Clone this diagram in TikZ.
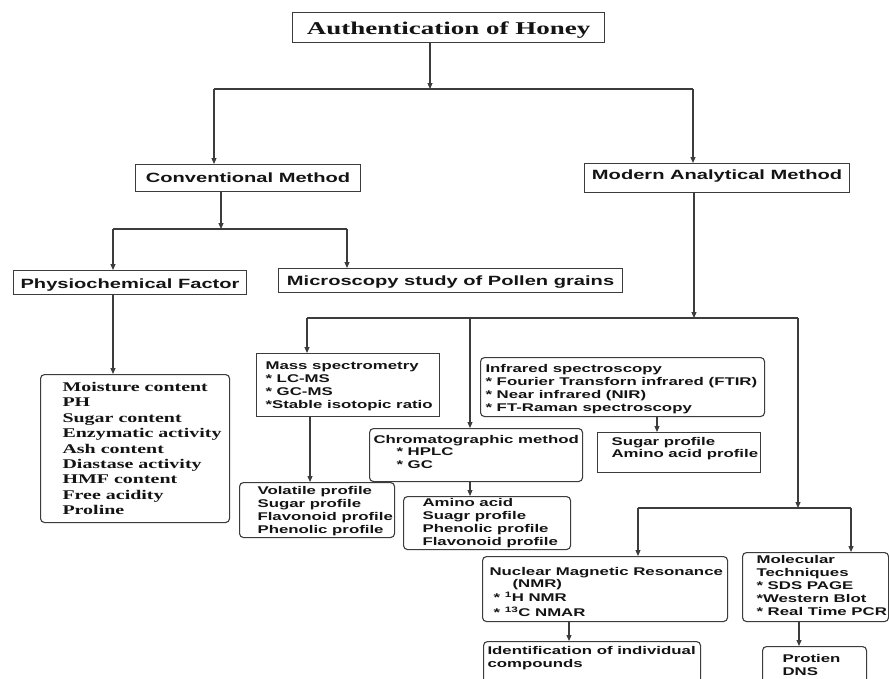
\documentclass[tikz,border=0pt]{standalone}
\usepackage{fontspec}
\setmainfont{Liberation Serif}[FakeStretch=1.5]
\newfontfamily\arl{Liberation Sans}[FakeStretch=1.5]
\usetikzlibrary{arrows.meta}
\definecolor{lc}{HTML}{3C3C3C}
\definecolor{tc}{HTML}{141414}
\newcommand\bnode[8]{\node[#1] (#2) at (#3,#4) {\hspace*{#7pt}\parbox[c][\dimexpr #6pt-#4pt\relax][t]{\dimexpr #5pt-#3pt-#7pt\relax}{#8}};}
\newcommand\st[1]{\rule{0pt}{#1pt}}
\newcommand\sm{\arl\bfseries\fontsize{11.2}{13}\selectfont}
\newcommand\md{\arl\bfseries\fontsize{13.4}{15}\selectfont}
\tikzset{
  sq/.style={draw=lc, line width=1.1pt, inner sep=0pt, anchor=north west, text=tc},
  rd/.style={sq, rounded corners=4pt},
  ar/.style={draw=lc, line width=1.1pt, -{Triangle[length=6pt,width=5pt]}},
  ln/.style={draw=lc, line width=1.1pt},
}
\begin{document}
\begin{tikzpicture}[x=1pt,y=-1pt]
\fill[white] (0,0) rectangle (889,678);
\useasboundingbox (0,0) rectangle (889,678);

% boxes
\bnode{sq}{auth}{292}{12}{604}{42}{0}{\centering\fontsize{18}{20}\selectfont\bfseries\st{21.5}Authentication of Honey}
\bnode{sq}{conv}{135}{164}{360}{191}{0}{\centering\md\st{17.5}Conventional Method}
\bnode{sq}{mod}{584}{163}{849}{192}{0}{\centering\md\st{15.5}Modern Analytical Method}
\bnode{sq}{phys}{13}{270}{246}{294}{0}{\centering\md\st{18}Physiochemical Factor}
\bnode{sq}{micro}{278}{268}{622}{292}{0}{\centering\md\st{16.5}Microscopy study of Pollen grains}

\bnode{rd}{moist}{40}{374}{229}{522}{22}{\raggedright\bfseries\fontsize{13.3}{15.4}\selectfont\st{17}\mbox{Moisture content}\\\mbox{PH}\\\mbox{Sugar content}\\\mbox{Enzymatic activity}\\\mbox{Ash content}\\\mbox{Diastase activity}\\\mbox{HMF content}\\\mbox{Free acidity}\\\mbox{Proline}}

\bnode{sq}{mass}{256}{353}{439}{416}{9}{\sm\raggedright\st{16}\mbox{Mass spectrometry}\\\mbox{* LC-MS}\\\mbox{* GC-MS}\\\mbox{*Stable isotopic ratio}}
\bnode{rd}{vol}{239}{482}{394}{537}{18}{\sm\raggedright\st{12}\mbox{Volatile profile}\\\mbox{Sugar profile}\\\mbox{Flavonoid profile}\\\mbox{Phenolic profile}}
\bnode{rd}{ir}{480}{357}{764}{416}{5}{\sm\raggedright\st{15}\mbox{Infrared spectroscopy}\\\mbox{* Fourier Transforn infrared (FTIR)}\\\mbox{* Near infrared (NIR)}\\\mbox{* FT-Raman spectroscopy}}
\bnode{sq}{sug}{597}{432}{760}{472}{14}{\sm\raggedright\st{13}\mbox{Sugar profile}\\[-1pt]\mbox{Amino acid profile}}
\bnode{rd}{chr}{369}{428}{582}{481}{4}{\sm\raggedright\st{15}\mbox{Chromatographic method}\\[-1pt]\hspace*{23pt}\mbox{* HPLC}\\\hspace*{23pt}\mbox{* GC}}
\bnode{rd}{amino}{403}{496}{570}{549}{19}{\sm\raggedright\st{10}\mbox{Amino acid}\\\mbox{Suagr profile}\\\mbox{Phenolic profile}\\\mbox{Flavonoid profile}}
\bnode{rd}{nmr}{482}{556}{727}{621}{7}{\sm\raggedright\st{18.5}\mbox{Nuclear Magnetic Resonance}\\[-0.5pt]\hspace*{23pt}\mbox{(NMR)}\\[1pt]\hspace*{4pt}\mbox{* \textsuperscript{1}H NMR}\\[2pt]\hspace*{4pt}\mbox{* \textsuperscript{13}C NMAR}}
\bnode{rd}{mol}{742}{552}{888}{621}{14}{\sm\raggedright\st{11}\mbox{Molecular}\\\mbox{Techniques}\\\mbox{* SDS PAGE}\\\mbox{*Western Blot}\\\mbox{* Real Time PCR}}
\bnode{rd}{ident}{483}{641}{700}{692}{4}{\sm\raggedright\st{13}\mbox{Identification of individual}\\\mbox{compounds}}
\bnode{rd}{prot}{762}{646}{866}{692}{20}{\sm\raggedright\st{16}\mbox{Protien}\\\mbox{DNS}}

% junction coordinates
\coordinate (j1) at (430,89);
\coordinate (j1L) at (214,89);
\coordinate (j1R) at (693,89);
\coordinate (j2) at (221,229);
\coordinate (j2L) at (113,229);
\coordinate (j2R) at (347,229);
\coordinate (j3) at (694,318);
\coordinate (j3L) at (307,318);
\coordinate (j3M) at (470,318);
\coordinate (j3R) at (798,318);
\coordinate (j4) at (798,508);
\coordinate (j4L) at (638,508);
\coordinate (j4R) at (851,508);
\coordinate (xa) at (310,0);
\coordinate (xb) at (657,0);
\coordinate (xc) at (569,0);
\coordinate (xd) at (799,0);

% connectors
\draw[ar] (auth.south -| j1) -- (j1);
\draw[ln] (j1L) -- (j1R);
\draw[ar] (j1L) -- (conv.north -| j1L);
\draw[ar] (j1R) -- (mod.north -| j1R);

\draw[ar] (conv.south -| j2) -- (j2);
\draw[ln] (j2L) -- (j2R);
\draw[ar] (j2L) -- (phys.north -| j2L);
\draw[ar] (j2R) -- (micro.north -| j2R);
\draw[ar] (phys.south -| j2L) -- (moist.north -| j2L);

\draw[ar] (mod.south -| j3) -- (j3);
\draw[ln] (j3L) -- (j3R);
\draw[ar] (j3L) -- (mass.north -| j3L);
\draw[ar] (j3M) -- (chr.north -| j3M);
\draw[ar] (j3R) -- (j4);
\draw[ln] (j4L) -- (j4R);
\draw[ar] (j4L) -- (nmr.north -| j4L);
\draw[ar] (j4R) -- (mol.north -| j4R);

\draw[ar] (mass.south -| xa) -- (vol.north -| xa);
\draw[ar] (ir.south -| xb) -- (sug.north -| xb);
\draw[ar] (chr.south -| j3M) -- (amino.north -| j3M);
\draw[ar] (nmr.south -| xc) -- (ident.north -| xc);
\draw[ar] (mol.south -| xd) -- (prot.north -| xd);
\end{tikzpicture}
\end{document}
